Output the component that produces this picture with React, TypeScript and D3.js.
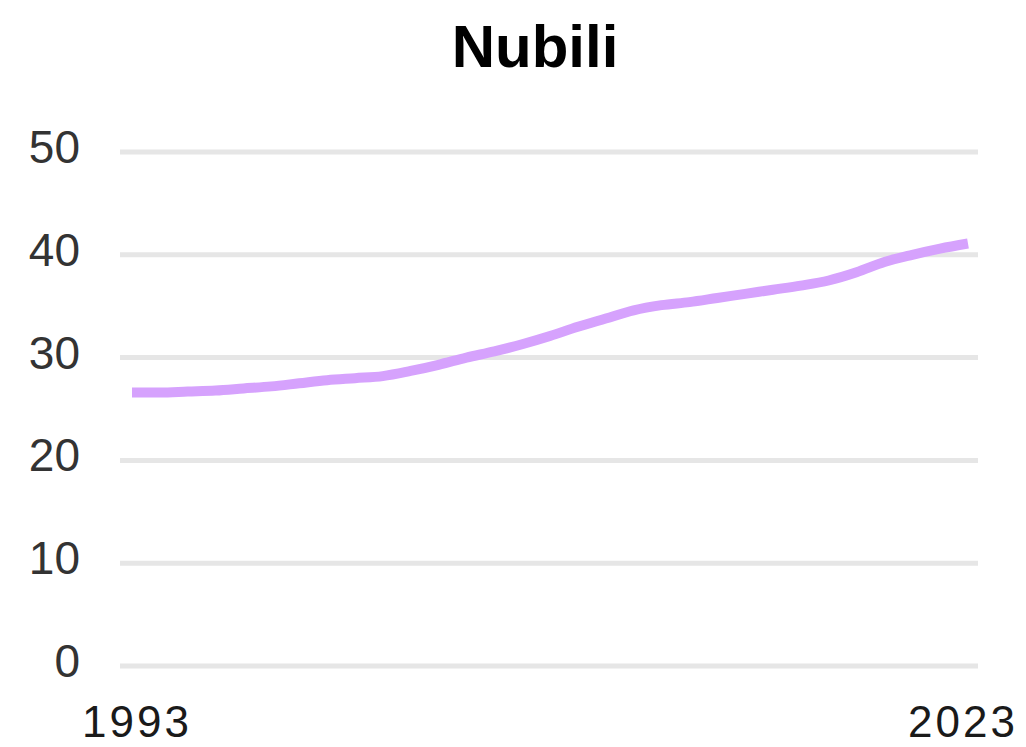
import React from "react";
import * as d3 from "d3";

const years: number[] = [
  1993, 1994, 1995, 1996, 1997, 1998, 1999, 2000, 2001, 2002, 2003, 2004, 2005, 2006, 2007, 2008,
  2009, 2010, 2011, 2012, 2013, 2014, 2015, 2016, 2017, 2018, 2019, 2020, 2021, 2022, 2023,
];
const values: number[] = [
  26.6, 26.6, 26.7, 26.8, 27.0, 27.2, 27.5, 27.8, 28.0, 28.2, 28.7, 29.3, 30.0, 30.6, 31.3, 32.1,
  33.0, 33.8, 34.6, 35.1, 35.4, 35.8, 36.2, 36.6, 37.0, 37.5, 38.3, 39.3, 40.0, 40.6, 41.1,
];
const yTicks: number[] = [0, 10, 20, 30, 40, 50];
const xTickLabels: number[] = [1993, 2023];
const title = "Nubili";

const W = 1026;
const H = 747;

export default function App() {
  const x = d3.scaleLinear().domain([1993, 2023]).range([132, 968]);
  const y = d3.scaleLinear().domain([0, 50]).range([666, 152]);
  const line = d3
    .line<number>()
    .x((_, i) => x(years[i]))
    .y((d) => y(d))
    .curve(d3.curveMonotoneX);

  return (
    <svg
      width={W}
      height={H}
      style={{ position: "absolute", left: 0, top: 0, background: "#fff" }}
      fontFamily="'Liberation Sans', Arial, Helvetica, sans-serif"
    >
      <text x={535} y={67} textAnchor="middle" fontSize={60} fontWeight="bold" fill="#000">
        {title}
      </text>
      {yTicks.map((t) => (
        <g key={t}>
          <line x1={120} x2={978} y1={y(t)} y2={y(t)} stroke="#e6e6e6" strokeWidth={5} />
          <text x={80} y={y(t) + 11} textAnchor="end" fontSize={46} fill="#333">
            {t}
          </text>
        </g>
      ))}
      <path d={line(values) || ""} fill="none" stroke="#d6a2fd" strokeWidth={10} />
      {xTickLabels.map((t) => (
        <text
          key={t}
          x={x(t) + (t === 1993 ? 5 : -5)}
          y={737}
          textAnchor="middle"
          fontSize={44}
          fill="#1a1a1a"
          letterSpacing={3}
        >
          {t}
        </text>
      ))}
    </svg>
  );
}
